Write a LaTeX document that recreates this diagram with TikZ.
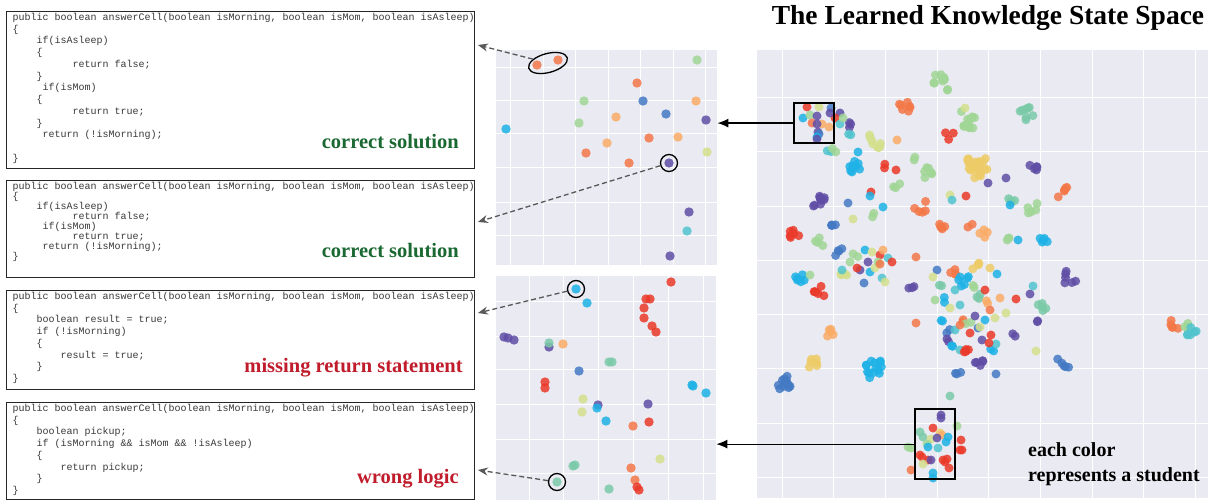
\documentclass[tikz,border=0pt]{standalone}
\usepackage{fontspec}
\setmainfont{Liberation Serif}
\newfontfamily\codefamily{Liberation Mono}
\usepackage{tikz}
\usetikzlibrary{positioning}
\usetikzlibrary{shapes.geometric}
\usetikzlibrary{arrows.meta}

\definecolor{cR}{RGB}{234,58,42}
\definecolor{cO}{RGB}{244,120,72}
\definecolor{cLO}{RGB}{250,172,104}
\definecolor{cY}{RGB}{238,204,104}
\definecolor{cYG}{RGB}{212,224,140}
\definecolor{cLG}{RGB}{160,214,150}
\definecolor{cG}{RGB}{122,202,168}
\definecolor{cT}{RGB}{80,196,206}
\definecolor{cC}{RGB}{30,178,230}
\definecolor{cB}{RGB}{68,122,196}
\definecolor{cP}{RGB}{96,78,166}
\definecolor{bgGray}{RGB}{234,234,242}
\definecolor{goodGreen}{RGB}{26,104,50}
\definecolor{badRed}{RGB}{192,28,44}
\definecolor{arrowGray}{RGB}{88,88,88}

\newcommand{\ind}[1]{\hspace*{#1\dimexpr6pt\relax}}

\begin{document}
\begin{tikzpicture}[
    x=1pt, y=-1pt,
    codebox/.style={draw=black!85, line width=0.9pt, anchor=north west, inner sep=0pt, minimum width=468pt},
    code/.style={font=\codefamily\fontsize{10}{11.75}\selectfont, text=black!78, align=left, anchor=north west, inner sep=0pt},
    tight/.style={font=\codefamily\fontsize{10}{10}\selectfont, text=black!78, align=left, anchor=north west, inner sep=0pt},
    good/.style={font=\fontsize{20.5}{24}\selectfont\bfseries, text=goodGreen, anchor=base east, inner sep=0pt},
    bad/.style={font=\fontsize{20.5}{24}\selectfont\bfseries, text=badRed, anchor=base east, inner sep=0pt},
    plotbg/.style={fill=bgGray, anchor=north west, inner sep=0pt},
    gridline/.style={draw=white, line width=1pt},
    dot/.style={fill=#1, fill opacity=0.85},
    ring/.style={draw, circle, line width=1.3pt, minimum size=17pt, inner sep=0pt},
    zoombox/.style={draw, line width=2.2pt, anchor=north west, inner sep=0pt},
    solidarrow/.style={-{Latex[length=11pt,width=9pt]}, line width=1.2pt},
    dashline/.style={-{Stealth[length=10pt,width=8pt]}, line width=1.3pt, draw=arrowGray, dash pattern=on 5pt off 3pt}
    ]
    \useasboundingbox (0,0) rectangle (1213,500);
    \pgfmathsetseed{4242}

    % code snippets
    \node[codebox, minimum height=157pt] (code1) at (6,11) {};
    \node[code] (src1) at ([xshift=6.5pt,yshift=-2pt]code1.north west) {%
      public boolean answerCell(boolean isMorning, boolean isMom, boolean isAsleep)\\
      \{\\
      \ind{4}if(isAsleep)\\
      \ind{4}\{\\
      \ind{10}return false;\\
      \ind{4}\}\\
      \ind{5}if(isMom)\\
      \ind{4}\{\\
      \ind{10}return true;\\
      \ind{4}\}\\
      \ind{5}return (!isMorning);\\
      \mbox{}\\
      \}};
    \node[good] (lab1) at ([xshift=-16pt,yshift=20pt]code1.south east) {correct solution};

    \node[codebox, minimum height=97pt] (code2) at (6,180) {};
    \node[tight] (src2) at ([xshift=6.5pt,yshift=-2pt]code2.north west) {%
      public boolean answerCell(boolean isMorning, boolean isMom, boolean isAsleep)\\
      \{\\
      \ind{4}if(isAsleep)\\
      \ind{10}return false;\\
      \ind{5}if(isMom)\\
      \ind{10}return true;\\
      \ind{5}return (!isMorning);\\
      \}};
    \node[good] (lab2) at ([xshift=-16pt,yshift=20pt]code2.south east) {correct solution};

    \node[codebox, minimum height=99pt] (code3) at (6,290) {};
    \node[code] (src3) at ([xshift=6.5pt,yshift=-2pt]code3.north west) {%
      public boolean answerCell(boolean isMorning, boolean isMom, boolean isAsleep)\\
      \{\\
      \ind{4}boolean result = true;\\
      \ind{4}if (!isMorning)\\
      \ind{4}\{\\
      \ind{8}result = true;\\
      \ind{4}\}\\
      \}};
    \node[bad] (lab3) at ([xshift=-12pt,yshift=17pt]code3.south east) {missing return statement};

    \node[codebox, minimum height=97pt] (code4) at (6,402) {};
    \node[code] (src4) at ([xshift=6.5pt,yshift=-2pt]code4.north west) {%
      public boolean answerCell(boolean isMorning, boolean isMom, boolean isAsleep)\\
      \{\\
      \ind{4}boolean pickup;\\
      \ind{4}if (isMorning \&\& isMom \&\& !isAsleep)\\
      \ind{4}\{\\
      \ind{8}return pickup;\\
      \ind{4}\}\\
      \}};
    \node[bad] (lab4) at ([xshift=-16pt,yshift=16pt]code4.south east) {wrong logic};

    % zoomed plots
    \node[plotbg, minimum width=221pt, minimum height=215pt] (plotA) at (496,50) {};
    \foreach \gx in {510,543,575,608,640,673,705} \draw[gridline] (\gx,50) -- (\gx,265);
    \foreach \gy in {68,101,134,168,202,235} \draw[gridline] (496,\gy) -- (717,\gy);
    \foreach \x/\y/\c in {537/65/cO, 558/60/cO, 697/60/cLG, 637/83/cO, 584/101/cLG,
        643/101/cB, 696/101/cLO, 666/114/cB, 706/120/cP, 616/117/cLO, 579/123/cLG,
        506/129/cC, 607/143/cLO, 649/138/cO, 678/137/cLO, 586/153/cO, 629/163/cO,
        669/163/cP, 707/152/cYG, 689/212/cP, 687/231/cT, 670/256/cP}
      \fill[dot=\c] (\x,\y) circle[radius=4.7pt];

    \node[plotbg, minimum width=220pt, minimum height=224pt] (plotB) at (496,276) {};
    \foreach \gx in {529,563,598,633,668,703} \draw[gridline] (\gx,276) -- (\gx,500);
    \foreach \gy in {301,336,369,404,439,473} \draw[gridline] (496,\gy) -- (716,\gy);
    \foreach \x/\y/\c in {671/282/cR, 576/289/cC, 587/303/cC, 646/299/cR, 650/299/cR,
        644/308/cR, 644/318/cR, 652/326/cR, 656/332/cR, 504/337/cP, 508/338/cP,
        514/340/cP, 549/347/cP, 549/343/cG, 563/344/cLO, 609/362/cG, 612/362/cG,
        579/371/cB, 545/382/cR, 545/388/cR, 692/385/cC, 693/386/cC, 706/393/cC,
        583/399/cYG, 582/412/cYG, 598/405/cP, 597/408/cC, 648/404/cP, 606/421/cC,
        633/426/cO, 649/422/cR, 660/459/cYG, 573/466/cG, 575/465/cG, 631/468/cO,
        635/480/cO, 637/487/cR, 639/490/cR, 557/482/cG, 609/489/cG}
      \fill[dot=\c] (\x,\y) circle[radius=4.7pt];

    % full state space
    \node[font=\fontsize{27.5}{30}\selectfont\bfseries, inner sep=0pt] (title) at (988,18) {The Learned Knowledge State Space};
    \node[plotbg, minimum width=451pt, minimum height=448pt] (space) at (757,50) {};
    \foreach \gx in {782,833.5,885,937,988,1040,1092,1143,1195} \draw[gridline] (\gx,50) -- (\gx,498);
    \foreach \gy in {98,152,206,260,314,368,423,477} \draw[gridline] (757,\gy) -- (1208,\gy);
    \foreach \x/\y/\c/\n/\r in {940/78/cLG/8/7, 945/90/cLG/2/3, 905/106/cO/7/6,
        968/120/cLG/12/9, 965/108/cYG/1/0, 1027/114/cG/8/7, 949/135/cR/3/5,
        849/126/cP/3/4, 876/141/cYG/8/7, 897/140/cLO/1/0, 848/137/cT/2/3,
        830/152/cT/2/3, 835/150/cLG/2/3, 853/166/cC/8/7, 858/152/cC/1/0,
        883/166/cR/2/2, 896/170/cR/1/0, 912/157/cLG/2/3, 925/172/cLG/6/7,
        977/168/cY/25/10, 988/183/cP/1/0, 1006/178/cP/1/0, 1033/166/cP/5/4,
        1062/192/cO/5/5, 896/187/cLG/3/4, 871/192/cR/1/0, 870/196/cC/1/0,
        883/207/cC/1/0, 819/202/cP/10/6, 848/203/cB/1/0, 920/207/cO/5/6,
        950/195/cYG/1/0, 952/200/cT/1/0, 966/196/cR/1/0, 1012/199/cG/4/4,
        1010/205/cC/1/0, 1033/208/cLG/5/6, 836/225/cB/4/6, 853/219/cYG/1/0,
        873/215/cLG/2/3, 795/234/cR/6/5, 940/224/cO/5/5, 969/226/cO/2/4,
        984/234/cLO/4/5, 1009/237/cLG/3/4, 1018/240/cC/1/0, 1045/239/cC/5/5,
        820/241/cLG/4/5, 838/252/cB/4/4, 855/255/cLG/2/3,
        865/250/cC/1/0, 868/262/cP/1/0, 872/252/cYG/1/0, 880/255/cR/1/0,
        883/250/cLO/1/0, 888/258/cT/1/0, 892/262/cR/1/0, 860/270/cP/1/0,
        870/272/cC/1/0, 875/268/cYG/1/0, 882/278/cT/1/0, 864/283/cB/1/0,
        878/262/cLG/1/0, 857/268/cR/1/0, 885/282/cYG/1/0, 880/264/cO/1/0,
        800/278/cC/6/5, 810/275/cLG/1/0, 819/291/cR/6/6, 845/277/cYG/4/5,
        842/270/cT/1/0, 850/262/cLG/1/0, 916/257/cO/1/0, 912/288/cP/3/4,
        952/272/cO/4/5, 963/281/cC/6/6, 976/265/cY/4/4, 937/270/cB/1/0,
        933/277/cYG/1/0, 940/285/cG/2/3, 945/300/cC/2/3, 935/300/cLG/1/0,
        972/285/cLG/2/3, 978/295/cG/3/4, 985/290/cR/1/0, 988/303/cLO/2/3,
        990/310/cO/1/0, 995/318/cYG/1/0, 955/290/cT/1/0, 960/305/cT/1/0,
        950/308/cYG/1/0, 962/318/cO/2/4, 968/322/cLG/2/3, 975/316/cP/1/0,
        985/320/cC/1/0, 978/328/cB/1/0, 970/333/cR/1/0, 982/340/cP/1/0,
        991/335/cR/1/0, 941/323/cC/2/3, 948/330/cB/2/3, 955/330/cT/1/0,
        960/325/cO/1/0, 947/340/cP/2/3, 953/348/cC/2/3, 960/350/cT/1/0,
        966/348/cR/4/4, 990/350/cC/2/4, 996/344/cT/1/0, 989/343/cR/1/0,
        980/327/cYG/1/0, 1000/298/cLO/1/0, 1006/313/cYG/1/0, 997/274/cC/1/0,
        990/268/cY/1/0, 1070/277/cP/6/6, 1042/306/cG/5/5, 1039/320/cP/2/2,
        1030/294/cP/1/0, 1016/299/cR/1/0, 1033/286/cT/1/0, 1013/336/cP/2/3,
        1036/351/cYG/1/0, 1063/363/cB/5/6, 916/323/cO/1/0, 1175/324/cO/5/5,
        1184/326/cLG/3/4, 1192/332/cT/6/5, 831/333/cLO/5/4, 815/362/cY/6/6,
        873/369/cC/14/9, 785/382/cB/12/7, 979/364/cP/5/4, 958/375/cB/3/3,
        996/374/cB/1/0, 950/396/cG/1/0}
      \foreach \i in {1,...,\n}
        \fill[dot=\c] (\x+\r*rand,\y+\r*rand) circle[radius=4.5pt];
    % mixed students in the two marked regions
    \foreach \x/\y/\c in {807/107/cR, 819/107/cYG, 831/108/cB, 840/113/cP, 835/118/cR,
        803/118/cC, 810/115/cLG, 817/116/cP, 812/123/cO, 822/124/cLO, 817/124/cP,
        840/124/cT, 818/132/cP, 819/134/cB, 817/137/cC, 817/139/cP, 829/127/cLO,
        830/113/cP, 843/118/cLG,
        941/415/cP, 941/418/cP, 933/428/cR, 920/432/cG, 923/437/cG, 940/433/cY,
        942/435/cLO, 957/426/cLG, 948/437/cC, 946/442/cC, 931/439/cYG, 937/438/cP,
        927/444/cLG, 928/447/cC, 938/448/cT, 908/447/cLG, 911/448/cLG, 961/440/cR,
        962/450/cR, 960/450/cR, 920/455/cR, 922/457/cR, 928/460/cR, 931/460/cP,
        943/460/cR, 945/462/cR, 947/459/cR, 923/464/cYG, 911/470/cO, 949/468/cR,
        933/473/cC, 933/478/cC}
      \fill[dot=\c] (\x,\y) circle[radius=4.5pt];

    \node[zoombox, minimum width=40pt, minimum height=40pt] (zoomA) at (793,102) {};
    \node[zoombox, minimum width=40pt, minimum height=70pt] (zoomB) at (914,408) {};
    \node[font=\fontsize{20}{25}\selectfont\bfseries, align=left, anchor=north west, inner sep=0pt] (note) at (1028,442) {each color\\represents a student};

    \draw[solidarrow] (zoomA.west) -- (zoomA.west -| plotA.east);
    \draw[solidarrow] (zoomB.west) -- (zoomB.west -| plotB.east);

    % highlighted answers
    \node[ellipse, draw, line width=1.3pt, minimum width=40pt, minimum height=19pt, inner sep=0pt, rotate=15] (pairA) at (548,63) {};
    \node[ring] (ringA) at (669,163) {};
    \node[ring] (ringB) at (576,289) {};
    \node[ring] (ringC) at (557,482) {};

    \draw[dashline] (pairA) -- ([xshift=3pt,yshift=-34pt]code1.north east);
    \draw[dashline] (ringA) -- ([xshift=3pt,yshift=-42pt]code2.north east);
    \draw[dashline] (ringB) -- ([xshift=3pt,yshift=-23pt]code3.north east);
    \draw[dashline] (ringC) -- ([xshift=3pt,yshift=-68pt]code4.north east);
\end{tikzpicture}
\end{document}
